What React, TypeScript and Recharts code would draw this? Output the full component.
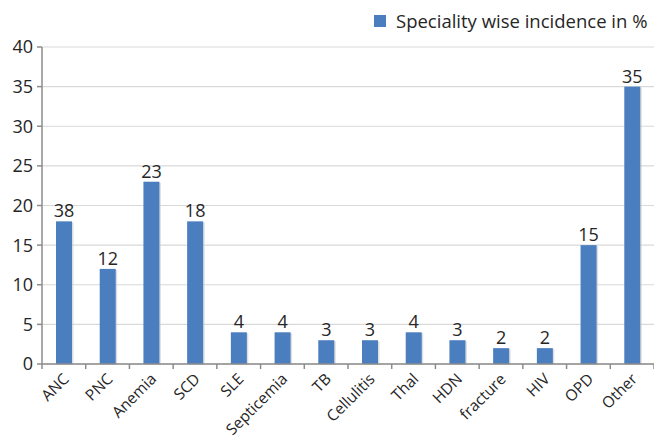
import { BarChart, Bar, XAxis, YAxis, CartesianGrid, Legend, LabelList } from "recharts";

const categories = ["ANC", "PNC", "Anemia", "SCD", "SLE", "Septicemia", "TB", "Cellulitis", "Thal", "HDN", "fracture", "HIV", "OPD", "Other"];
const barValues = [18, 12, 23, 18, 4, 4, 3, 3, 4, 3, 2, 2, 15, 35];
const labelValues = [38, 12, 23, 18, 4, 4, 3, 3, 4, 3, 2, 2, 15, 35];
const yTicks = [0, 5, 10, 15, 20, 25, 30, 35, 40];

const seriesName = "Speciality wise incidence in %";
const font = "'Open Sans', sans-serif";
const W = 654;
const H = 441;
const LEFT = 42;
const band = (W - LEFT) / categories.length;

const data = categories.map((c, i) => ({ name: c, value: barValues[i], label: labelValues[i] }));

const BarShape = (props: any) => {
  const { x, y, width, height } = props;
  return (
    <g>
      <rect x={x + 1.5} y={y + 1} width={width} height={height} fill="#c8c8c8" opacity={0.6} />
      <rect x={x} y={y} width={width} height={height} fill="#4a7ebf" />
    </g>
  );
};

const XTick = (props: any) => {
  const { x, y, payload, index } = props;
  const last = index === categories.length - 1;
  return (
    <g>
      <line x1={x - band / 2} x2={x - band / 2} y1={y - 8} y2={y - 3} stroke="#8c8c8c" strokeWidth={1.5} />
      {last && <line x1={x + band / 2} x2={x + band / 2} y1={y - 8} y2={y - 3} stroke="#8c8c8c" strokeWidth={1.5} />}
      <text
        x={x + 6}
        y={y + 8}
        textAnchor="end"
        transform={`rotate(-45 ${x + 6} ${y + 8})`}
        fontSize={15.5}
        fontFamily={font}
        fill="#262626"
      >
        {payload.value}
      </text>
    </g>
  );
};

const LegendContent = () => (
  <div style={{ display: "flex", alignItems: "center", fontFamily: font, fontSize: 18.5, color: "#262626" }}>
    <span style={{ display: "inline-block", width: 12, height: 12, background: "#4a7ebf", marginRight: 10 }} />
    {seriesName}
  </div>
);

export default function App() {
  return (
    <div style={{ position: "absolute", left: 0, top: 0, width: W, height: H, background: "#fff" }}>
      <BarChart width={W} height={H} data={data} margin={{ top: 22, right: 0, left: 0, bottom: 0 }} barSize={16}>
        <CartesianGrid vertical={false} stroke="#d9d9d9" strokeWidth={1.2} />
        <Legend
          verticalAlign="top"
          align="right"
          content={<LegendContent />}
          wrapperStyle={{ position: "absolute", top: 8, left: 374, width: 280 }}
        />
        <XAxis
          dataKey="name"
          interval={0}
          tickLine={false}
          axisLine={{ stroke: "#8c8c8c", strokeWidth: 1.5 }}
          tick={<XTick />}
          height={77}
        />
        <YAxis
          domain={[0, 40]}
          ticks={yTicks}
          width={LEFT}
          tickSize={5}
          tickLine={{ stroke: "#8c8c8c", strokeWidth: 1.5 }}
          axisLine={{ stroke: "#8c8c8c", strokeWidth: 1.5 }}
          tick={{ fill: "#262626", fontSize: 18, fontFamily: font }}
          tickMargin={4}
        />
        <Bar dataKey="value" name={seriesName} shape={<BarShape />} isAnimationActive={false}>
          <LabelList dataKey="label" position="top" offset={4} fill="#262626" fontSize={18} fontFamily={font} />
        </Bar>
      </BarChart>
    </div>
  );
}
